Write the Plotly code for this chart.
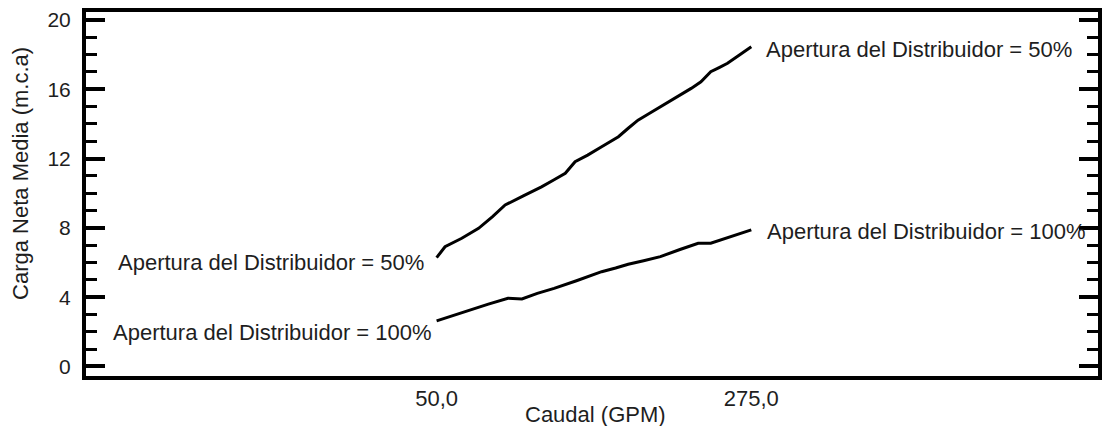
import plotly.graph_objects as go

# Data
x_50 = [50, 56, 68, 80, 90, 99, 112, 125, 134, 142, 149, 158, 168, 180, 187, 194, 202, 210, 218, 225, 232, 239, 246, 252, 258, 266, 275]
y_50 = [6.28, 6.91, 7.40, 7.97, 8.65, 9.32, 9.85, 10.37, 10.78, 11.15, 11.82, 12.20, 12.68, 13.26, 13.75, 14.22, 14.60, 14.99, 15.35, 15.67, 16.05, 16.43, 17.01, 17.25, 17.50, 17.95, 18.45]
x_100 = [50, 62, 73, 87, 101, 111, 122, 134, 150, 168, 178, 187, 198, 210, 224, 237, 246, 260, 275]
y_100 = [2.63, 2.95, 3.26, 3.60, 3.94, 3.90, 4.22, 4.51, 4.95, 5.47, 5.68, 5.90, 6.10, 6.34, 6.75, 7.11, 7.11, 7.48, 7.88]

label_50 = "Apertura del Distribuidor = 50%"
label_100 = "Apertura del Distribuidor = 100%"
x_tickvals = [50, 275]
x_ticktext = ["50,0", "275,0"]
y_tickvals = [0, 4, 8, 12, 16, 20]

FONT = "Liberation Sans, Arial, sans-serif"
TXT = "#1e1e1e"

fig = go.Figure()
fig.add_trace(go.Scatter(x=x_50, y=y_50, mode="lines", line=dict(color="black", width=3),
                         name=label_50, showlegend=False, hoverinfo="skip"))
fig.add_trace(go.Scatter(x=x_100, y=y_100, mode="lines", line=dict(color="black", width=3),
                         name=label_100, showlegend=False, hoverinfo="skip"))

annots = [
    dict(x=x_50[0], y=y_50[0], text=label_50, xanchor="right", yanchor="middle", xshift=-11, yshift=-5),
    dict(x=x_100[0], y=y_100[0], text=label_100, xanchor="right", yanchor="middle", xshift=-3, yshift=-12),
    dict(x=x_50[-1], y=y_50[-1], text=label_50, xanchor="left", yanchor="middle", xshift=13, yshift=-3),
    dict(x=x_100[-1], y=y_100[-1], text=label_100, xanchor="left", yanchor="middle", xshift=14, yshift=-2),
]
for a in annots:
    fig.add_annotation(**a, xref="x", yref="y", showarrow=False,
                       font=dict(family=FONT, size=22, color=TXT))

# axis titles as annotations for precise placement
fig.add_annotation(text="Carga Neta Media (m.c.a)", xref="paper", yref="paper", x=0, y=0.555,
                   xanchor="center", yanchor="middle", xshift=-65, textangle=-90, showarrow=False,
                   font=dict(family=FONT, size=22, color=TXT))
fig.add_annotation(text="Caudal (GPM)", xref="paper", yref="paper", x=0.5, y=0,
                   xanchor="center", yanchor="middle", xshift=3, yshift=-38, showarrow=False,
                   font=dict(family=FONT, size=22, color=TXT))

fig.update_layout(
    width=1102, height=426,
    margin=dict(l=86, r=0, t=12, b=50),
    paper_bgcolor="white", plot_bgcolor="white",
    font=dict(family=FONT, color=TXT),
)
fig.update_xaxes(
    range=[-200.7, 522.9], showgrid=False, zeroline=False,
    showline=True, linecolor="black", linewidth=4, mirror=True,
    ticks="", tickvals=x_tickvals, ticktext=x_ticktext,
    tickfont=dict(family=FONT, size=22, color=TXT), ticklabelstandoff=0,
)
fig.update_yaxes(
    range=[-0.55, 20.46], showgrid=False, zeroline=False,
    showline=True, linecolor="black", linewidth=4, mirror="allticks",
    ticks="inside", ticklen=19, tickwidth=4, tickcolor="black",
    tickvals=y_tickvals,
    tickfont=dict(family=FONT, size=21, color=TXT), ticklabelstandoff=7,
    minor=dict(dtick=1, ticks="inside", ticklen=11, tickwidth=3, tickcolor="black", showgrid=False),
)

fig.write_html("out.html")
